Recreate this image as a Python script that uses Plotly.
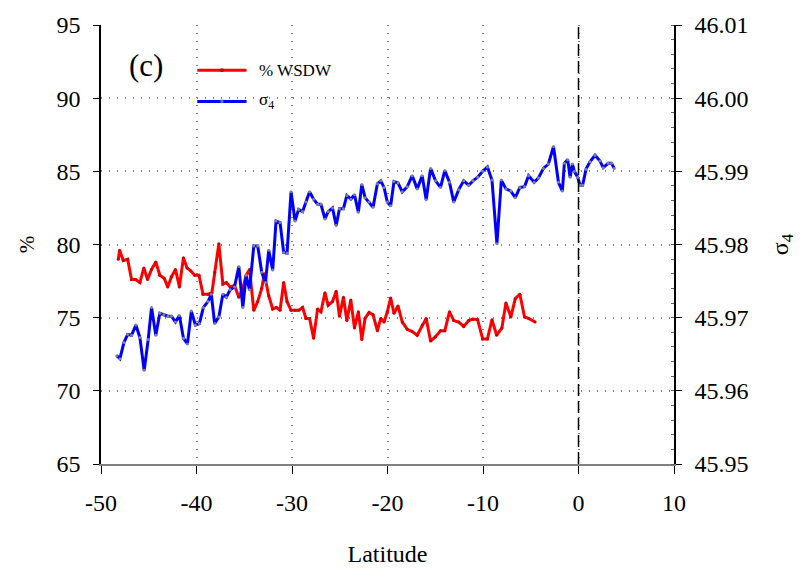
import plotly.graph_objects as go

# ---- data ----
wsdw_lat = [-48.19, -48.05, -47.67, -47.21, -46.80, -46.38, -45.93, -45.51, -45.13, -44.71,
            -44.26, -43.84, -43.39, -43.01, -42.62, -42.20, -41.79, -41.37, -40.99, -40.61,
            -40.19, -39.74, -39.32, -38.80, -38.39, -38.10, -37.66, -37.24, -36.88, -36.47,
            -36.02, -35.57, -35.15, -34.80, -34.45, -34.00, -33.59, -33.17, -32.89, -32.44,
            -32.02, -31.63, -31.25, -30.87, -30.52, -30.10, -29.68, -29.31, -28.89, -28.54,
            -28.16, -27.74, -27.32, -26.97, -26.55, -26.21, -25.76, -25.37, -25.03, -24.61,
            -24.26, -23.84, -23.46, -23.05, -22.69, -22.35, -21.93, -21.51, -21.06, -20.71,
            -20.36, -20.02, -19.67, -19.32, -18.90, -18.45, -17.93, -17.41, -16.89, -16.37,
            -15.95, -15.49, -14.97, -14.45, -14.00, -13.51, -13.06, -12.54, -12.02, -11.50,
            -11.05, -10.56, -10.03, -9.54, -9.06, -8.57, -8.02, -7.60, -7.08, -6.62,
            -6.14, -5.65, -5.23, -4.54]
wsdw_pct = [79.0, 79.6, 78.9, 79.0, 77.6, 77.6, 77.4, 78.4, 77.6, 78.3,
            78.8, 77.9, 77.7, 77.1, 77.8, 78.3, 77.1, 79.1, 78.4, 78.2,
            77.9, 77.9, 76.6, 76.6, 76.7, 78.1, 80.05, 77.3, 77.4, 77.1,
            77.2, 76.4, 77.0, 77.9, 78.3, 75.5, 76.1, 77.0, 78.0, 76.5,
            75.6, 75.7, 75.5, 77.4, 76.1, 75.5, 75.5, 75.5, 75.7, 74.95,
            74.95, 73.6, 75.6, 75.4, 76.7, 75.85, 76.1, 76.8, 75.1, 76.4,
            74.8, 76.2, 74.3, 75.4, 73.5, 74.95, 75.35, 75.2, 74.1, 74.95,
            74.7, 75.4, 76.35, 75.3, 75.8, 74.7, 74.2, 74.05, 73.8, 74.5,
            74.95, 73.4, 73.7, 74.1, 74.1, 75.4, 74.8, 74.7, 74.4, 74.8,
            74.9, 74.85, 73.55, 73.55, 74.85, 73.8, 74.3, 76.0, 75.05, 76.3,
            76.6, 75.05, 74.95, 74.7]

sigma_lat = [-48.36, -48.02, -47.60, -47.21, -46.80, -46.35, -45.93, -45.48, -45.06, -44.71,
             -44.26, -43.84, -43.43, -42.98, -42.62, -42.20, -41.79, -41.37, -40.95, -40.54,
             -40.12, -39.70, -39.28, -38.80, -38.45, -38.10, -37.66, -37.24, -36.88, -36.47,
             -36.02, -35.57, -35.15, -34.80, -34.45, -34.00, -33.59, -33.17, -32.78, -32.44,
             -32.02, -31.67, -31.25, -30.87, -30.52, -30.10, -29.68, -29.31, -28.89, -28.54,
             -28.16, -27.74, -27.32, -26.97, -26.55, -26.21, -25.76, -25.37, -25.03, -24.61,
             -24.26, -23.84, -23.46, -23.05, -22.69, -22.35, -21.93, -21.51, -21.06, -20.71,
             -20.36, -20.02, -19.67, -19.32, -18.90, -18.45, -17.93, -17.41, -16.89, -16.37,
             -15.95, -15.49, -14.97, -14.45, -14.00, -13.51, -13.06, -12.54, -12.02, -11.50,
             -11.05, -10.56, -10.03, -9.54, -9.06, -8.54, -8.08, -7.60, -7.08, -6.62,
             -6.14, -5.65, -5.23, -4.64, -4.19, -3.67, -3.15, -2.62, -2.10, -1.69,
             -1.48, -1.13, -0.88, -0.64, -0.43, -0.09, 0.16, 0.43, 0.79, 1.20,
             1.73, 2.25, 2.59, 3.11, 3.46, 3.74]
sigma4 = [45.9648, 45.9644, 45.9666, 45.9677, 45.9676, 45.9690, 45.9673, 45.9628, 45.9670, 45.9714,
          45.9676, 45.9706, 45.9704, 45.9702, 45.9702, 45.9694, 45.9703, 45.9672, 45.9664, 45.9709,
          45.9690, 45.9692, 45.9714, 45.9722, 45.9732, 45.9692, 45.9701, 45.9732, 45.9728, 45.9738,
          45.9742, 45.9770, 45.9714, 45.9758, 45.9738, 45.9798, 45.9798, 45.9762, 45.9748, 45.9792,
          45.9765, 45.9832, 45.9830, 45.9789, 45.9788, 45.9872, 45.9832, 45.9848, 45.9845, 45.9858,
          45.9872, 45.9862, 45.9855, 45.9855, 45.9835, 45.9845, 45.9850, 45.9826, 45.9849, 45.9849,
          45.9867, 45.9862, 45.9868, 45.9844, 45.9882, 45.9864, 45.9858, 45.9851, 45.9883, 45.9887,
          45.9878, 45.9858, 45.9853, 45.9886, 45.9884, 45.9872, 45.9879, 45.9894, 45.9876, 45.9894,
          45.9861, 45.9904, 45.9887, 45.9878, 45.9901, 45.9885, 45.9858, 45.9875, 45.9887, 45.9881,
          45.9887, 45.9892, 45.9900, 45.9906, 45.9888, 45.9801, 45.9888, 45.9876, 45.9873, 45.9864,
          45.9878, 45.9879, 45.9894, 45.9885, 45.9891, 45.9904, 45.9910, 45.9934, 45.9885, 45.9873,
          45.9911, 45.9916, 45.9892, 45.9910, 45.9900, 45.9892, 45.9881, 45.9881, 45.9903, 45.9913,
          45.9922, 45.9914, 45.9905, 45.9911, 45.9911, 45.9904]

x_ticks = [-50, -40, -30, -20, -10, 0, 10]
y_ticks = [65, 70, 75, 80, 85, 90, 95]
y2_ticks = [45.95, 45.96, 45.97, 45.98, 45.99, 46.00, 46.01]

FONT = "Liberation Serif"
RED = "#ff0000"
BLUE = "#0000ff"

fig = go.Figure()
fig.add_trace(go.Scatter(x=wsdw_lat, y=wsdw_pct, mode="lines+markers", name="% WSDW",
                         line=dict(color=RED, width=3),
                         marker=dict(color="#d00000", size=3), showlegend=False))
fig.add_trace(go.Scatter(x=sigma_lat, y=sigma4, mode="lines+markers", name="σ4", yaxis="y2",
                         line=dict(color=BLUE, width=3),
                         marker=dict(color="#8080a0", size=3), showlegend=False))

# vertical dashed line at the equator
fig.add_shape(type="line", xref="x", yref="paper", x0=0, x1=0, y0=0, y1=1,
              line=dict(color="black", width=1.5, dash="12px,5px"))

# manual legend
for yp, col, mcol, label in [(0.897, RED, "#c00000", "% WSDW"), (0.826, BLUE, "#7070a0", "σ<sub>4</sub>")]:
    fig.add_shape(type="line", xref="paper", yref="paper", x0=0.168, x1=0.254, y0=yp, y1=yp,
                  line=dict(color=col, width=3))
    fig.add_shape(type="rect", xref="paper", yref="paper", x0=0.2085, x1=0.2135, y0=yp - 0.004, y1=yp + 0.004,
                  line=dict(width=0), fillcolor=mcol)
    fig.add_annotation(xref="paper", yref="paper", x=0.272, y=yp, text=label, showarrow=False,
                       xanchor="left", yanchor="middle", font=dict(family=FONT, size=17, color="black"))

fig.add_annotation(xref="paper", yref="paper", x=0.045, y=0.908, text="(c)", showarrow=False,
                   xanchor="left", yanchor="middle", font=dict(family=FONT, size=31, color="black"))

GRID = dict(showgrid=True, gridcolor="#808080", griddash="1px,7px", gridwidth=1.5)

fig.update_layout(
    width=801, height=575,
    margin=dict(l=101, r=125, t=22, b=107),
    paper_bgcolor="white", plot_bgcolor="white",
    font=dict(family=FONT, size=24, color="black"),
    xaxis=dict(range=[-50, 10], tickvals=x_ticks, ticktext=[str(v) for v in x_ticks],
               **GRID,
               zeroline=False, showline=True, linecolor="#808080", linewidth=2,
               ticks="outside", ticklen=8, tickcolor="black", tickwidth=1,
               ticklabelstandoff=8,
               title=dict(text="Latitude", font=dict(family=FONT, size=24), standoff=30)),
    yaxis=dict(range=[65, 95], tickvals=y_ticks, ticktext=[str(v) for v in y_ticks],
               **GRID,
               zeroline=False, showline=True, linecolor="black", linewidth=1.5,
               ticks="outside", ticklen=6, tickcolor="black",
               ticklabelstandoff=8,
               title=dict(text="%", font=dict(family=FONT, size=21), standoff=16)),
    yaxis2=dict(range=[45.95, 46.01], overlaying="y", side="right",
                tickvals=y2_ticks, ticktext=["%.2f" % v for v in y2_ticks],
                showgrid=False, zeroline=False, showline=True, linecolor="black", linewidth=1.5,
                ticks="outside", ticklen=6, tickcolor="black",
                minor=dict(dtick=0.002, ticks="inside", ticklen=3, tickcolor="#606060"),
                ticklabelstandoff=8,
                title=dict(text="σ<sub>4</sub>", font=dict(family=FONT, size=24), standoff=24)),
    showlegend=False,
)

fig.write_html("out.html")
